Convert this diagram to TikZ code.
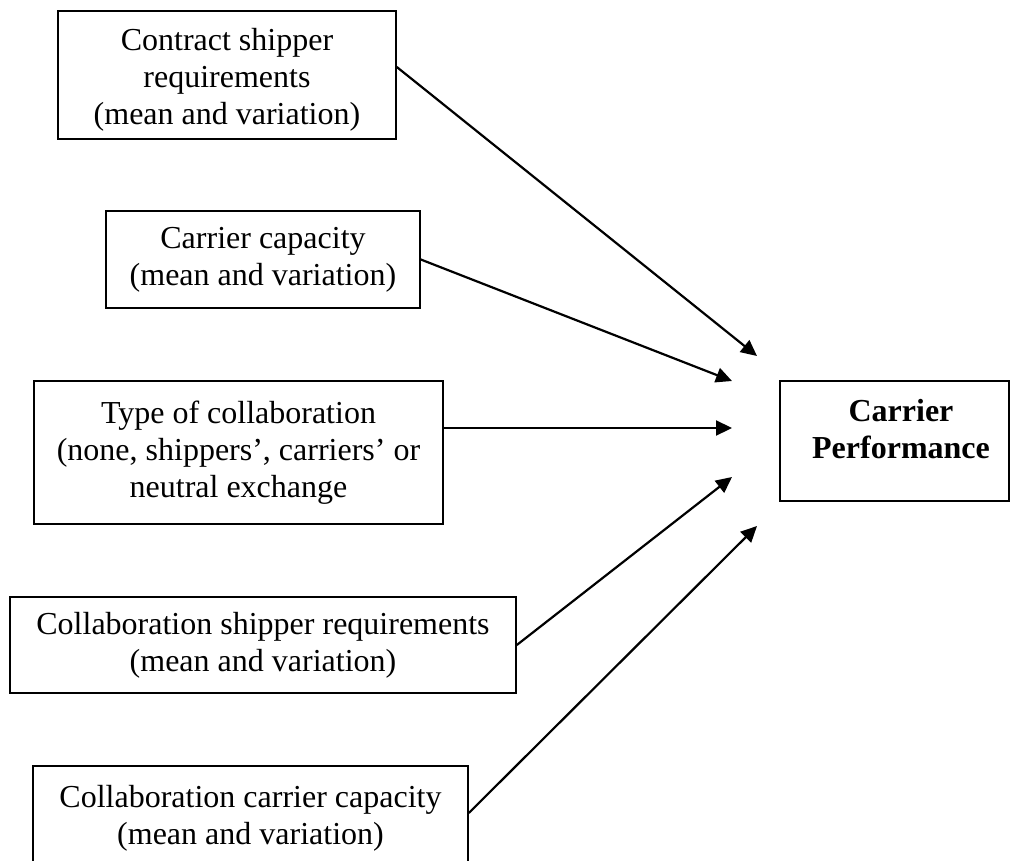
\documentclass[tikz,border=0pt]{standalone}
\usepackage{fontspec}
\setmainfont{Liberation Serif}
\usetikzlibrary{arrows.meta}
\begin{document}
\begin{tikzpicture}[x=1pt,y=-1pt,
  box/.style={draw, line width=1.6pt, align=center, inner sep=0pt,
    font=\fontsize{32}{37}\selectfont},
  arr/.style={line width=2.2pt, -{Triangle[length=16pt,width=15pt]}}]
\useasboundingbox (0,0) rectangle (1011,861);
\node[box, minimum width=338pt, minimum height=128pt] (b1) at (227,75)
  {\rule{0pt}{32pt}Contract shipper\\requirements\\(mean and variation)};
\node[box, minimum width=314pt, minimum height=97pt] (b2) at (263,259.5)
  {Carrier capacity\\(mean and variation)};
\node[box, minimum width=409pt, minimum height=143pt] (b3) at (238.5,452.5)
  {Type of collaboration\\(none, shippers’, carriers’ or\\neutral exchange};
\node[box, minimum width=506pt, minimum height=96pt] (b4) at (263,645)
  {Collaboration shipper requirements\\(mean and variation)};
\node[box, minimum width=435pt, minimum height=104pt] (b5) at (250.5,818)
  {Collaboration carrier capacity\\(mean and variation)};
\node[box, minimum width=229pt, minimum height=120pt, font=\fontsize{32}{37}\selectfont\bfseries] (cp) at (894.5,441)
  {\hspace*{13pt}Carrier\\\hspace*{13pt}Performance\rule[-24pt]{0pt}{0pt}};
\coordinate (t1) at (757,356);
\coordinate (t2) at (732,381);
\coordinate (t3) at (732,428);
\coordinate (t4) at (732,477);
\coordinate (t5) at (757,526);
\draw[arr] ([yshift=8pt]b1.east) -- (t1);
\draw[arr] (b2.east) -- (t2);
\draw[arr] ([yshift=24.5pt]b3.east) -- (t3);
\draw[arr] (b4.east) -- (t4);
\draw[arr] ([yshift=5pt]b5.east) -- (t5);
\end{tikzpicture}
\end{document}
